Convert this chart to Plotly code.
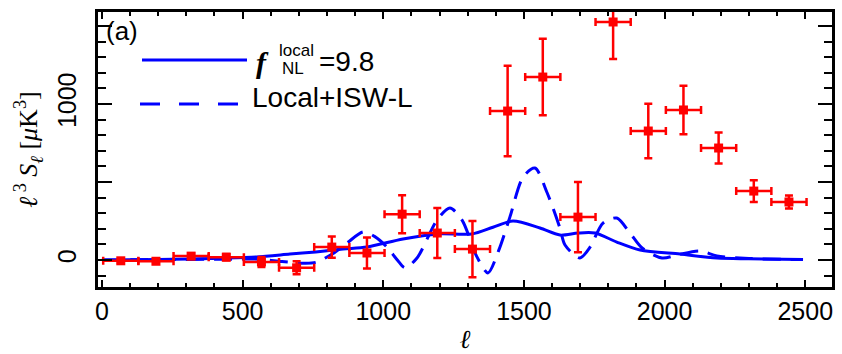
import plotly.graph_objects as go

# Binned bispectrum estimates: bin centres, half-widths, values and 1-sigma errors
ell_bins = [67, 192, 317, 442, 567, 692, 817, 942, 1067, 1192,
            1317, 1442, 1567, 1692, 1817, 1942, 2067, 2192, 2317, 2442]
ell_halfwidth = [62.5] * 20
s_obs = [-5, -8, 25, 18, -12, -50, 83, 45, 294, 173,
         70, 955, 1173, 275, 1526, 827, 962, 718, 442, 372]
s_err = [12, 15, 18, 20, 32, 42, 68, 100, 122, 160,
         180, 290, 245, 225, 237, 175, 155, 100, 70, 42]

# Local-type template, f_NL = 9.8
ell_local = [0, 200, 430, 550, 668, 760, 857, 942, 1070, 1194, 1315, 1390,
             1461, 1557, 1628, 1692, 1753, 1830, 1913, 2055, 2186, 2300, 2492]
s_local = [0, 3, 12, 20, 38, 52, 70, 83, 135, 167, 167, 210,
           250, 205, 160, 173, 173, 115, 64, 38, 13, 8, 3]

# Local + ISW-lensing template
ell_isw = [0, 200, 430, 560, 640, 714, 760, 820, 871, 929, 970, 1013, 1050,
           1077, 1120, 1191, 1237, 1280, 1333, 1372, 1410, 1450, 1497, 1539,
           1582, 1628, 1646, 1699, 1735, 1781, 1830, 1877, 1920, 1991, 2044,
           2126, 2186, 2300, 2492]
s_isw = [0, 2, 5, 5, -10, -20, -15, 40, 109, 180, 150, 83, 0,
         -50, 13, 256, 333, 256, 20, -83, 60, 275, 532, 590,
         433, 205, 96, 13, 83, 237, 269, 173, 77, 13, 32,
         58, 26, 10, 3]

BLUE = "#0000ff"
RED = "#ff0000"
SANS = "Liberation Sans"
SERIF = "Liberation Serif"

fig = go.Figure()

fig.add_trace(go.Scatter(
    x=ell_local, y=s_local, mode="lines",
    line=dict(color=BLUE, width=3, shape="spline", smoothing=0.8),
    showlegend=False, hoverinfo="skip",
))
fig.add_trace(go.Scatter(
    x=ell_isw, y=s_isw, mode="lines",
    line=dict(color=BLUE, width=3, shape="spline", smoothing=0.8, dash="18px,10px"),
    showlegend=False, hoverinfo="skip",
))
fig.add_trace(go.Scatter(
    x=ell_bins, y=s_obs, mode="markers",
    marker=dict(symbol="square", size=9, color=RED),
    error_y=dict(type="data", array=s_err, color=RED, thickness=2.5, width=4),
    error_x=dict(type="data", array=ell_halfwidth, color=RED, thickness=2.5, width=4),
    showlegend=False,
))

# Legend key drawn by hand: long line samples with labels beside them
px_l, px_r, px_t, px_b = 98, 832, 12, 287
def px2paper(x, y):
    return (x - px_l) / (px_r - px_l), (px_b - y) / (px_b - px_t)

x0, ys = px2paper(142, 60)
x1, _ = px2paper(247, 60)
fig.add_shape(type="line", xref="paper", yref="paper", x0=x0, x1=x1, y0=ys, y1=ys,
              line=dict(color=BLUE, width=3))
x0, yd = px2paper(140, 104)
x1, _ = px2paper(238, 104)
fig.add_shape(type="line", xref="paper", yref="paper", x0=x0, x1=x1, y0=yd, y1=yd,
              line=dict(color=BLUE, width=3, dash="20px,19px"))

def label(text, x, y, size, family=SANS, xanchor="left"):
    ax, ay = px2paper(x, y)
    fig.add_annotation(text=text, xref="paper", yref="paper", x=ax, y=ay,
                       xanchor=xanchor, yanchor="middle", showarrow=False,
                       font=dict(family=family, size=size, color="black"))

label("<b><i>f</i></b>", 254, 63, 30, family=SERIF)
label("local", 277, 50, 17)
label("NL", 280, 68, 17)
label("=9.8", 317, 62, 28)
label("Local+ISW-L", 250, 97, 28)
label("(a)", 104, 31, 26)

axis_common = dict(
    showline=True, linewidth=3, linecolor="black", mirror="allticks",
    ticks="inside", tickcolor="black", tickwidth=2,
    showgrid=False, zeroline=False, automargin=False,
    tickfont=dict(family=SANS, size=25, color="black"),
)

fig.update_xaxes(
    **axis_common,
    range=[-14, 2595],
    tickvals=[0, 500, 1000, 1500, 2000, 2500],
    ticklen=7,
    ticklabelstandoff=0,
    minor=dict(dtick=100, tick0=0, ticks="inside", ticklen=4, tickwidth=2, tickcolor="black"),
    title=dict(text="<i>ℓ</i>", font=dict(family=SERIF, size=26, color="black"), standoff=6),
)
fig.update_yaxes(
    **axis_common,
    range=[-173, 1590],
    tickvals=[0, 500, 1000, 1500],
    ticktext=["0", "", "1000", ""],
    tickangle=-90,
    ticklen=14,
    ticklabelstandoff=9,
    minor=dict(dtick=100, tick0=0, ticks="inside", ticklen=8, tickwidth=2, tickcolor="black"),
    title=dict(text="<i>ℓ</i><sup> 3</sup> <i>S</i><sub><i>ℓ</i></sub> [<i>μ</i>K<sup>3</sup>]",
               font=dict(family=SERIF, size=26, color="black"), standoff=8),
)

fig.update_layout(
    width=842, height=354,
    margin=dict(l=98, r=10, t=12, b=67),
    paper_bgcolor="white", plot_bgcolor="white",
    showlegend=False,
)

fig.write_html("out.html")
